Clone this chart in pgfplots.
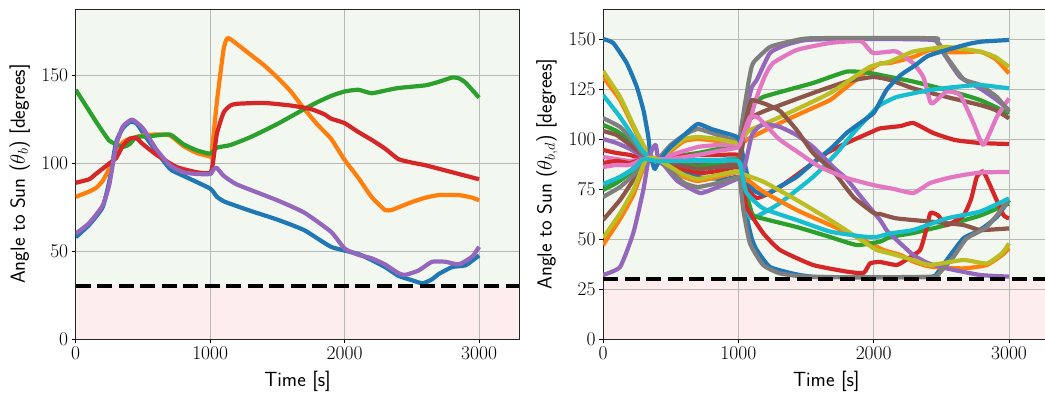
\documentclass[border=0pt]{standalone}
\usepackage{pgfplots}
\pgfplotsset{compat=1.18}
\definecolor{tblue}{HTML}{1F77B4}
\definecolor{torange}{HTML}{FF7F0E}
\definecolor{tgreen}{HTML}{2CA02C}
\definecolor{tred}{HTML}{D62728}
\definecolor{tpurple}{HTML}{9467BD}
\definecolor{tbrown}{HTML}{8C564B}
\definecolor{tpink}{HTML}{E377C2}
\definecolor{tgray}{HTML}{7F7F7F}
\definecolor{tolive}{HTML}{BCBD22}
\definecolor{tcyan}{HTML}{17BECF}
\definecolor{bggreen}{RGB}{242,247,239}
\definecolor{bgred}{RGB}{253,237,237}
\definecolor{gridgray}{RGB}{185,185,185}
\pgfplotsset{
  myax/.style={
    set layers,
    scale only axis, height=330pt,
    xmin=0, xmax=3300, ymin=0,
    xtick={0,1000,2000,3000},
    /pgf/number format/1000 sep={},
    /pgf/number format/assume math mode=true,
    grid=major, grid style={color=gridgray, line width=0.9pt},
    axis line style={line width=0.9pt, black!85},
    axis background/.style={fill=bggreen},
    tick align=outside, tick pos=left, major tick length=4pt,
    tick style={line width=0.9pt, black},
    ticklabel style={font=\fontsize{19.5}{22}\selectfont},
    xlabel={Time [s]},
    label style={font=\sffamily\fontsize{20.5}{24}\selectfont},
    x label style={at={(axis description cs:0.5,0)}, yshift=-42pt, anchor=center},
  },
  ln/.style={line width=4.2pt, line join=round, smooth, tension=0.3},
}
\begin{document}
\begin{tikzpicture}
% ---------------- left panel ----------------
\begin{axis}[myax, at={(75.7pt,60pt)}, anchor=south west, width=443.7pt,
  ymax=188, ytick={0,50,100,150},
  y label style={at={(axis description cs:-0.1262,0.5)}, anchor=center},
  ylabel={Angle to Sun ($\theta_b$) [degrees]}]
\addplot[draw=none, fill=bgred, on layer=axis background, forget plot] coordinates {(0,30)(3300,30)} \closedcycle;
\addplot[ln, tblue] coordinates {(0,58)(100,65)(200,75)(250,90)(300,112)(350,120)(400,123.5)(450,123)(550,112)(700,97)(800,93)(1000,85.7)(1050,81)(1100,78.5)(1150,77)(1300,73)(1500,68)(1700,62)(1900,52.5)(2100,48.5)(2200,45)(2300,41)(2400,36)(2500,33.5)(2580,31.7)(2650,34)(2700,37)(2800,41)(2900,42)(3000,47.6)};
\addplot[ln, torange] coordinates {(0,81)(100,84)(150,86)(200,90)(250,97)(300,106)(350,112)(400,114)(500,116)(600,116.5)(700,116)(800,110)(900,106)(1000,104)(1010,105)(1050,135)(1100,165)(1130,171.5)(1200,168)(1300,162)(1400,156)(1500,149)(1600,141)(1700,131)(1800,122)(1900,114)(2000,102)(2100,92)(2200,81)(2300,73.5)(2350,73.5)(2400,75)(2500,78)(2600,80.5)(2700,82)(2850,82)(2950,80.5)(3000,79)};
\addplot[ln, tgreen] coordinates {(0,142)(100,130)(150,124)(250,113)(350,109.5)(400,111)(450,115)(550,115.5)(700,116.5)(800,111)(900,107.5)(1000,105.6)(1050,109)(1150,110.5)(1300,115)(1500,122.5)(1700,131)(1800,135)(1900,138.5)(2000,141)(2100,142)(2200,140)(2300,141.5)(2400,143)(2600,144.5)(2700,146.5)(2800,149)(2850,148.5)(2900,146)(3000,137.5)};
\addplot[ln, tred] coordinates {(0,89)(100,91)(150,94)(250,100)(300,103)(350,110)(400,114)(450,114.5)(500,111)(600,105)(750,98)(900,95)(1000,94.5)(1020,100)(1050,117)(1100,129)(1150,133)(1200,134)(1400,134.5)(1600,133)(1750,131)(1850,128)(1900,125.5)(2000,123)(2100,118)(2200,113.5)(2300,108.5)(2400,102.5)(2500,100.5)(2600,99)(2800,95)(3000,91)};
\addplot[ln, tpurple] coordinates {(0,60)(100,66)(200,76)(250,88)(300,110)(350,121)(420,125)(500,120)(600,108)(700,99)(800,95)(900,94)(1000,94)(1030,97)(1050,97.5)(1100,93)(1200,88)(1500,79)(1700,72)(1900,61)(2000,51.5)(2100,48)(2200,46)(2300,42.5)(2400,37.5)(2450,36.5)(2550,39)(2650,44)(2750,44)(2850,42.5)(2950,47)(3000,52.5)};
\addplot[line width=4pt, black, dash pattern=on 15pt off 6.5pt] coordinates {(0,30)(3300,30)};
\end{axis}
% ---------------- right panel ----------------
\begin{axis}[myax, at={(603pt,60pt)}, anchor=south west, width=446.6pt,
  ymax=165, ytick={0,25,50,75,100,125,150},
  y label style={at={(axis description cs:-0.1254,0.5)}, anchor=center},
  ylabel={Angle to Sun ($\theta_{b,d}$) [degrees]}]
\addplot[draw=none, fill=bgred, on layer=axis background, forget plot] coordinates {(0,30)(3300,30)} \closedcycle;
% first colour cycle
\addplot[ln, tblue] coordinates {(0,77)(100,80)(200,84)(300,89)(400,89)(500,86)(700,81)(900,80)(1000,81)(1030,75)(1062,61)(1100,50)(1136,44.5)(1234,36)(1430,32.3)(1600,31)(2400,31)(2470,33)(2540,39.5)(2663,50.3)(2786,54.5)(2910,61)(3000,69.5)};
\addplot[ln, torange] coordinates {(0,131)(126,119.5)(224,106)(298,96)(345,91)(400,90)(500,94)(600,99)(700,100)(850,99)(1000,97.5)(1050,99)(1086,100.5)(1308,108)(1500,114)(1678,119.5)(1800,126)(1970,134.5)(2047,137.8)(2121,138)(2293,141)(2417,144.5)(2540,143.5)(2663,143.3)(2786,143.7)(2900,140)(3000,132.8)};
\addplot[ln, tgreen] coordinates {(0,107)(100,104)(200,99)(300,92)(400,90)(500,91)(700,93)(850,95)(1000,96.7)(1040,103)(1086,116)(1183,121)(1552,128)(1801,133.7)(1970,133)(2121,131)(2293,128.7)(2540,124.5)(2786,119.5)(3000,112.8)};
\addplot[ln, tred] coordinates {(0,94.5)(100,93)(200,92)(300,90)(400,90)(500,91)(700,92)(850,92)(1000,92)(1040,85)(1080,74)(1136,70.5)(1200,72)(1308,76)(1552,88)(1653,93)(1800,98)(2000,104)(2047,105.3)(2200,106.5)(2293,108)(2440,103)(2600,99.5)(2786,98)(3000,97.5)};
\addplot[ln, tpurple] coordinates {(0,100)(100,98)(200,95)(300,91)(400,90)(500,89)(700,89)(850,89)(1000,89)(1030,100)(1060,115)(1100,126)(1136,129.5)(1234,143)(1350,147)(1500,149.5)(1800,150)(2440,149.5)(2515,143)(2638,131)(2786,125.3)(2910,119.5)(3000,114.5)};
\addplot[ln, tbrown] coordinates {(0,104)(100,102)(200,97)(300,92)(400,90)(500,89)(700,88)(850,88)(1000,88)(1040,100)(1086,110)(1183,113.7)(1552,123)(1801,128.7)(1996,131)(2121,129.5)(2293,125.3)(2540,121)(2786,117)(2900,114.5)(3000,110.3)};
\addplot[ln, tpink] coordinates {(0,91)(100,90)(200,89)(300,90)(400,90)(500,92)(700,96)(850,97)(1000,97.5)(1040,100)(1086,109.5)(1136,121)(1200,132)(1257,138)(1431,144.5)(1678,148)(1900,149)(1950,146)(1996,143)(2121,143.7)(2170,143.7)(2293,137.8)(2367,131)(2417,118.7)(2440,118)(2540,123.7)(2638,122)(2737,108)(2811,97)(2910,111)(3000,120.3)};
\addplot[ln, tgray] coordinates {(0,110.5)(126,106)(224,99)(298,92.5)(400,90)(500,97)(600,102)(700,105)(850,102)(1000,99)(1020,105)(1050,118)(1080,130)(1109,138)(1234,146)(1400,149)(1552,150.4)(2440,150.4)(2466,148.7)(2540,141)(2663,130)(2786,127)(2910,121)(3000,113.7)};
\addplot[ln, tolive] coordinates {(0,134)(126,121)(224,107)(298,97)(345,92)(400,90)(500,95)(600,100)(700,101)(850,100)(1000,98)(1050,102)(1086,104.5)(1308,111)(1678,123)(1970,136)(2121,138.7)(2293,143.7)(2540,146)(2786,143.7)(2900,141)(3000,136)};
\addplot[ln, tcyan] coordinates {(0,122)(126,111)(224,101)(298,93.5)(400,89)(500,89)(700,89.5)(850,89.5)(1012,89.5)(1040,75)(1086,60.5)(1183,63)(1308,68)(1552,81)(1727,93)(1850,103)(2000,114)(2047,117)(2170,121)(2417,124.5)(2600,126)(2786,127)(3000,125.3)};
% second colour cycle
\addplot[ln, tblue] coordinates {(0,150)(75,148)(175,138)(250,126)(300,114)(335,101)(350,92)(380,85)(400,87)(420,90)(500,96)(600,102)(700,107.5)(800,105)(900,103)(1000,100.5)(1040,90)(1080,78)(1120,74)(1200,72)(1300,76)(1430,81)(1550,88)(1680,95)(1800,103)(1900,108)(2000,113)(2050,119)(2100,125)(2200,132)(2300,136.5)(2400,141.5)(2540,144.5)(2700,147.5)(2800,148.7)(3000,149.5)};
\addplot[ln, torange] coordinates {(0,47)(126,60)(224,72)(320,89)(400,90)(500,86)(600,81)(700,79)(850,81)(1000,83.5)(1050,80)(1086,78.7)(1183,73.7)(1431,64.5)(1678,57)(1925,49.5)(2072,44.5)(2200,42)(2293,38.7)(2417,36.2)(2663,35.3)(2836,37)(2950,42)(3000,45.3)};
\addplot[ln, tgreen] coordinates {(0,74.5)(100,78)(200,83)(300,89)(400,90)(500,88)(700,86)(850,88)(1000,89.5)(1050,75)(1100,63)(1136,61)(1431,56)(1678,51)(1875,47)(2047,48.7)(2121,51)(2293,53)(2540,57)(2786,61.7)(3000,67.8)};
\addplot[ln, tred] coordinates {(0,88)(100,89)(200,88)(300,90)(400,89)(500,87)(700,83)(850,84)(1000,86)(1030,80)(1062,66)(1183,53)(1308,44.5)(1552,37)(1801,33.7)(1925,33)(1973,37.8)(2047,38.5)(2170,37)(2250,40)(2343,44.5)(2390,55)(2417,62.8)(2440,63)(2478,61.7)(2540,57)(2663,61.7)(2720,70)(2762,81)(2811,83.7)(2885,73)(2959,62)(3000,60.3)};
\addplot[ln, tpurple] coordinates {(0,32)(126,36)(224,53)(298,74.5)(335,89.5)(365,95)(390,97)(410,89)(450,87)(550,79)(717,73)(850,76)(1000,80.3)(1030,82)(1060,90)(1100,102)(1150,106)(1200,107.5)(1308,106)(1430,102)(1552,96)(1700,86)(1800,80)(1925,69.5)(2047,59.5)(2100,54)(2170,49.5)(2293,42)(2400,38)(2540,35.3)(2786,32)(3000,31.2)};
\addplot[ln, tbrown] coordinates {(0,59.5)(126,69.5)(224,79.5)(298,88)(400,90)(500,88)(700,85)(850,86)(1000,87)(1040,105)(1080,116)(1100,119.5)(1200,117.5)(1308,114)(1431,104.5)(1552,93)(1700,84)(1850,71)(2000,63)(2047,62.5)(2170,60.3)(2417,58.7)(2663,57)(2786,54.5)(3000,55.3)};
\addplot[ln, tpink] coordinates {(0,86)(100,87)(200,87)(300,90)(400,90)(500,90)(700,92)(850,94)(1000,96)(1040,103)(1086,111)(1150,110.5)(1300,100)(1450,93)(1603,86)(1801,80.5)(1996,77)(2150,75)(2293,73)(2417,78)(2550,80.5)(2663,82)(2800,83.3)(3000,83.5)};
\addplot[ln, tgray] coordinates {(0,71)(126,76)(224,82)(298,88)(400,90)(500,84)(600,78)(700,76)(850,78)(1000,81)(1012,79.5)(1037,64.5)(1086,47.8)(1183,37)(1308,32.8)(1552,31)(2440,31)(2466,31.5)(2589,41)(2687,50.3)(2836,56)(3000,69.5)};
\addplot[ln, tolive] coordinates {(0,50.5)(126,62.8)(224,74.5)(320,90)(400,90)(500,86)(600,82)(700,80)(850,82)(1000,84)(1012,83)(1183,78.7)(1431,69.5)(1678,59.5)(1925,48.7)(2022,44.5)(2121,42.8)(2293,39.5)(2417,37)(2663,39.5)(2836,37.8)(2950,43)(3000,47.8)};
\addplot[ln, tcyan] coordinates {(0,77.5)(126,81)(224,85)(298,90)(400,89)(500,89)(700,89)(850,89)(1000,89)(1030,82)(1062,73)(1183,65.3)(1431,59.5)(1678,53.7)(1925,51.2)(2022,51)(2121,52.8)(2293,54.5)(2540,60.3)(2786,63.7)(3000,70.3)};
\addplot[line width=4pt, black, dash pattern=on 15pt off 6.5pt] coordinates {(0,30)(3300,30)};
\end{axis}
\pgfresetboundingbox
\useasboundingbox (0,0) rectangle (1045pt,399pt);
\end{tikzpicture}
\end{document}
